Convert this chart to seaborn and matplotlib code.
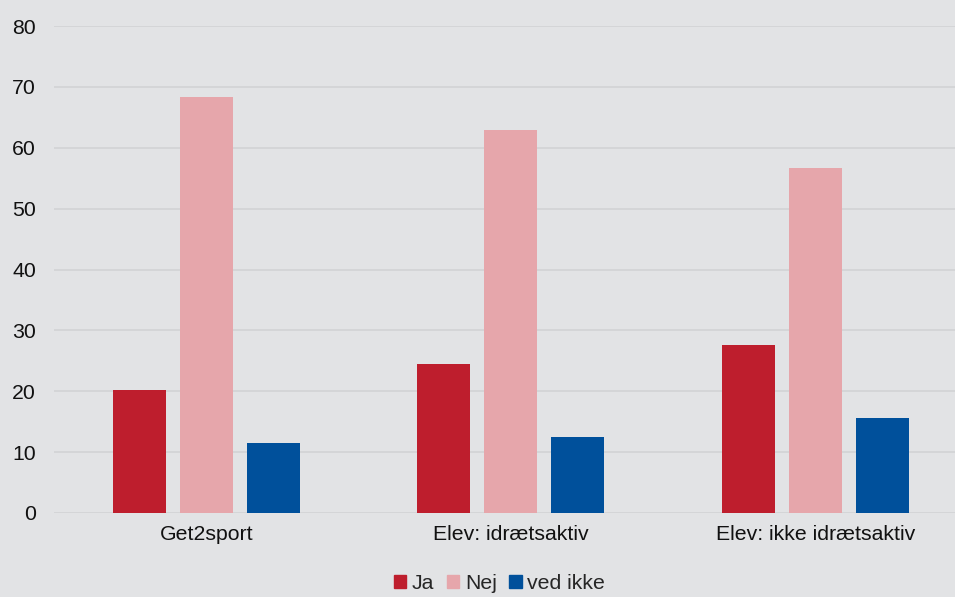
import seaborn as sns
import matplotlib.pyplot as plt
import pandas as pd

categories = ["Get2sport", "Elev: idrætsaktiv", "Elev: ikke idrætsaktiv"]
series = ["Ja", "Nej", "ved ikke"]
ja = [20.2, 24.5, 27.6]
nej = [68.3, 62.9, 56.7]
ved_ikke = [11.5, 12.5, 15.6]
yticks = [0, 10, 20, 30, 40, 50, 60, 70, 80]


def main():
    df = pd.DataFrame({
        "kategori": categories * 3,
        "svar": [s for s in series for _ in categories],
        "pct": ja + nej + ved_ikke,
    })

    bg = "#e2e3e5"
    farver = {"Ja": "#be1e2d", "Nej": "#e6a6ab", "ved ikke": "#00509b"}

    sns.set_style("white")
    plt.rcParams["font.family"] = ["Liberation Sans", "DejaVu Sans"]

    fig = plt.figure(figsize=(9.55, 5.97), dpi=100)
    fig.patch.set_facecolor(bg)
    ax = fig.add_axes([54 / 955, 84 / 597, 901 / 955, 487 / 597])
    ax.set_facecolor(bg)

    sns.barplot(data=df, x="kategori", y="pct", hue="svar",
                order=categories, hue_order=series, palette=farver,
                width=0.66, gap=0.21, saturation=1, linewidth=0,
                ax=ax, legend=False)

    ax.set_xlim(-0.5, -0.5 + 901 / 304.5)
    ax.set_ylim(0, 80)
    ax.set_yticks(yticks)
    ax.grid(axis="y", color="#d3d4d6", linewidth=1.3)
    ax.set_axisbelow(True)
    for s in ax.spines.values():
        s.set_visible(False)
    ax.tick_params(axis="both", length=0, labelsize=15.3, colors="#111111")
    ax.tick_params(axis="y", pad=13)
    ax.tick_params(axis="x", pad=9)
    ax.set_xlabel("")
    ax.set_ylabel("")

    handles = [plt.Rectangle((0, 0), 1, 1, color=farver[s]) for s in series]
    fig.legend(handles, series, loc="lower center", ncol=3, frameon=False,
               bbox_to_anchor=(0.523, -0.025), fontsize=15.3,
               handlelength=0.6, handleheight=0.6, handletextpad=0.25,
               columnspacing=0.6)

    plt.savefig("out.png", dpi=100, facecolor=bg)


if __name__ == "__main__":
    main()
